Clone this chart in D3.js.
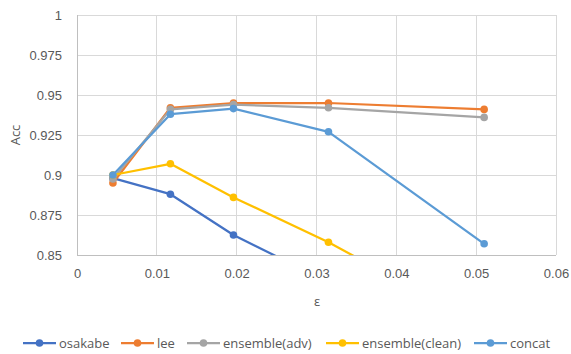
<!DOCTYPE html>
<html><head><meta charset="utf-8">
<script src="https://cdn.jsdelivr.net/npm/d3@7"></script>
<style>body{margin:0;background:#fff;}svg{display:block;font-family:"Open Sans","Noto Sans",sans-serif;}</style>
</head><body><div id="chart"></div>
<script>
const eps = [0.0045, 0.0117, 0.0196, 0.0315, 0.051];
const osakabe = [0.898, 0.888, 0.8625, 0.833, 0.81];
const lee = [0.895, 0.942, 0.945, 0.945, 0.941];
const ensembleAdv = [0.8975, 0.941, 0.944, 0.942, 0.936];
const ensembleClean = [0.9, 0.907, 0.886, 0.858, 0.805];
const concat = [0.9, 0.938, 0.9415, 0.927, 0.857];
const seriesNames = ["osakabe", "lee", "ensemble(adv)", "ensemble(clean)", "concat"];
const seriesColors = ["#4472C4", "#ED7D31", "#A5A5A5", "#FFC000", "#5B9BD5"];
const yTicks = [0.85, 0.875, 0.9, 0.925, 0.95, 0.975, 1];
const xTicks = [0, 0.01, 0.02, 0.03, 0.04, 0.05, 0.06];
const seriesValues = [osakabe, lee, ensembleAdv, ensembleClean, concat];

const W = 571, H = 354;
const m = {left: 77, right: 15, top: 15, bottom: 99};
const svg = d3.select("#chart").append("svg").attr("width", W).attr("height", H);
const x = d3.scaleLinear().domain([0, 0.06]).range([m.left, W - m.right]);
const y = d3.scaleLinear().domain([0.85, 1]).range([H - m.bottom, m.top]);

svg.append("defs").append("clipPath").attr("id", "clip").append("rect")
  .attr("x", m.left).attr("y", m.top).attr("width", x(0.06) - m.left).attr("height", y(0.85) - m.top);

// gridlines
const g = svg.append("g");
g.selectAll(".hy").data(yTicks).join("line")
  .attr("x1", m.left).attr("x2", x(0.06)).attr("y1", d => y(d)).attr("y2", d => y(d))
  .attr("stroke", d => d === 0.85 ? "#bfbfbf" : "#d9d9d9").attr("stroke-width", 1).attr("shape-rendering", "crispEdges");
g.selectAll(".vx").data(xTicks).join("line")
  .attr("x1", d => x(d)).attr("x2", d => x(d)).attr("y1", m.top).attr("y2", y(0.85))
  .attr("stroke", d => d === 0 ? "#bfbfbf" : "#d9d9d9").attr("stroke-width", 1).attr("shape-rendering", "crispEdges");

// axes labels via d3 axes
const yAxis = svg.append("g").attr("transform", `translate(${m.left - 8},0)`)
  .call(d3.axisLeft(y).tickValues(yTicks).tickSize(0).tickFormat(d => String(+d.toFixed(3))));
yAxis.select(".domain").remove();
yAxis.selectAll("text").attr("fill", "#595959").style("font-size", "13px").attr("x", -7);

const xAxis = svg.append("g").attr("transform", `translate(0,${y(0.85)})`)
  .call(d3.axisBottom(x).tickValues(xTicks).tickSize(0).tickFormat(d => String(+d.toFixed(2))));
xAxis.select(".domain").remove();
xAxis.selectAll("text").attr("fill", "#595959").style("font-size", "13px").attr("dy", "0").attr("y", 23);

svg.append("text").attr("x", 317).attr("y", 306).attr("text-anchor", "middle")
  .attr("fill", "#595959").style("font-size", "13px").text("ε");
svg.append("text").attr("transform", "translate(20,135) rotate(-90)").attr("text-anchor", "middle")
  .attr("fill", "#595959").style("font-size", "13px").text("Acc");

// series
const line = d3.line().x((d, i) => x(eps[i])).y(d => y(d));
const plot = svg.append("g").attr("clip-path", "url(#clip)");
seriesValues.forEach((vals, si) => {
  plot.append("path").datum(vals).attr("d", line).attr("fill", "none")
    .attr("stroke", seriesColors[si]).attr("stroke-width", 2.25).attr("stroke-linejoin", "round");
  plot.selectAll(null).data(vals).join("circle")
    .attr("cx", (d, i) => x(eps[i])).attr("cy", d => y(d)).attr("r", 3.8)
    .attr("fill", seriesColors[si]);
});

// legend
const legendX = [23, 121, 187, 326, 474];
const ly = 343;
const lg = svg.append("g");
seriesNames.forEach((n, i) => {
  const lx = legendX[i];
  lg.append("line").attr("x1", lx).attr("x2", lx + 33).attr("y1", ly).attr("y2", ly)
    .attr("stroke", seriesColors[i]).attr("stroke-width", 2.25);
  lg.append("circle").attr("cx", lx + 16.5).attr("cy", ly).attr("r", 3.8).attr("fill", seriesColors[i]);
  lg.append("text").attr("x", lx + 36).attr("y", ly).attr("dy", "0.35em")
    .attr("fill", "#595959").style("font-size", "13px").text(n);
});
</script></body></html>
